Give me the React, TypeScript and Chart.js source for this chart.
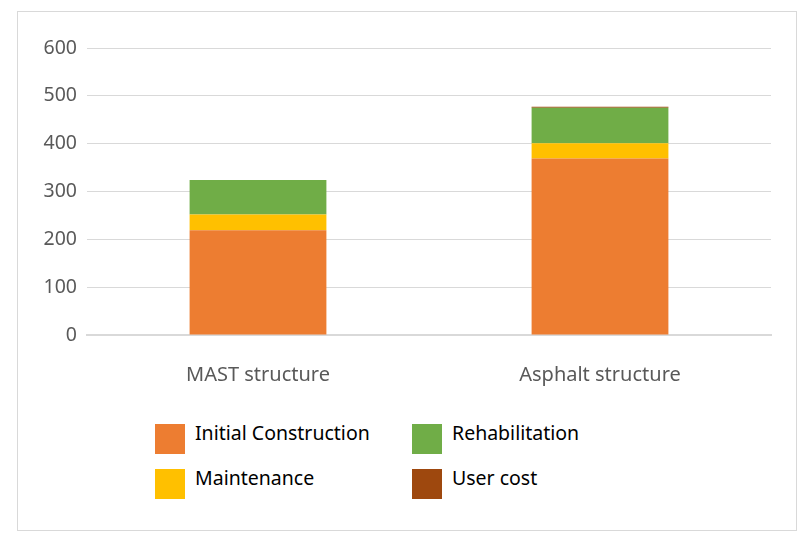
import React, { useEffect, useRef } from "react";
import { Chart, registerables } from "chart.js";

Chart.register(...registerables);

const categories = ["MAST structure", "Asphalt structure"];
const seriesNames = ["Initial Construction", "Maintenance", "Rehabilitation", "User cost"];
const initialConstruction = [219, 369];
const maintenance = [33, 32];
const rehabilitation = [72, 74];
const userCost = [0, 2];
const colors = ["#ED7D31", "#FFC000", "#70AD47", "#9E480E"];
const yTicks = [0, 100, 200, 300, 400, 500, 600];

const FONT = "'Noto Sans', 'DejaVu Sans', sans-serif";

export default function App() {
  const ref = useRef<HTMLCanvasElement | null>(null);
  useEffect(() => {
    if (!ref.current) return;
    const values = [initialConstruction, maintenance, rehabilitation, userCost];
    const chart = new Chart(ref.current, {
      type: "bar",
      data: {
        labels: categories,
        datasets: seriesNames.map((n, i) => ({
          label: n,
          data: values[i],
          backgroundColor: colors[i],
          borderWidth: 0,
          barPercentage: 0.4,
          categoryPercentage: 1,
        })),
      },
      options: {
        animation: false,
        responsive: false,
        maintainAspectRatio: false,
        layout: { padding: { left: 0, right: 25, top: 36, bottom: 0 } },
        plugins: { legend: { display: false }, tooltip: { enabled: false } },
        scales: {
          x: {
            stacked: true,
            grid: { display: false, drawTicks: false },
            border: { display: true, color: "#d9d9d9", width: 2 },
            ticks: { color: "#595959", font: { family: FONT, size: 20 }, padding: 28 },
            afterFit: (s: any) => { s.height = 77; },
          },
          y: {
            stacked: true,
            min: 0,
            max: 600,
            afterBuildTicks: (s: any) => { s.ticks = yTicks.map((v) => ({ value: v })); },
            grid: { color: "#d9d9d9", drawTicks: false },
            border: { display: false },
            ticks: { color: "#595959", font: { family: FONT, size: 19.5 }, padding: 10 },
            afterFit: (s: any) => { s.width = 69; },
          },
        },
      },
    });
    return () => chart.destroy();
  }, []);

  return (
    <div
      style={{
        position: "relative",
        marginLeft: 9,
        marginTop: 3,
        width: 778,
        height: 518,
        border: "1px solid #d9d9d9",
        background: "#fff",
        fontFamily: FONT,
      }}
    >
      <canvas ref={ref} width={778} height={400} style={{ position: "absolute", left: 0, top: 0 }} />
      <div
        style={{
          position: "absolute",
          left: 137,
          top: 412,
          display: "grid",
          gridTemplateColumns: "257px 200px",
          rowGap: 15,
        }}
      >
        {seriesNames
          .map((n, i) => ({ n, i }))
          .sort((a, b) => [0, 2, 1, 3].indexOf(a.i) - [0, 2, 1, 3].indexOf(b.i))
          .map(({ n, i }) => (
            <div key={n} style={{ display: "flex", alignItems: "center", height: 30 }}>
              <div style={{ width: 30, height: 30, background: colors[i], marginRight: 10, flex: "none" }} />
              <span style={{ fontSize: 19.5, color: "#000", position: "relative", top: -7 }}>{n}</span>
            </div>
          ))}
      </div>
    </div>
  );
}
